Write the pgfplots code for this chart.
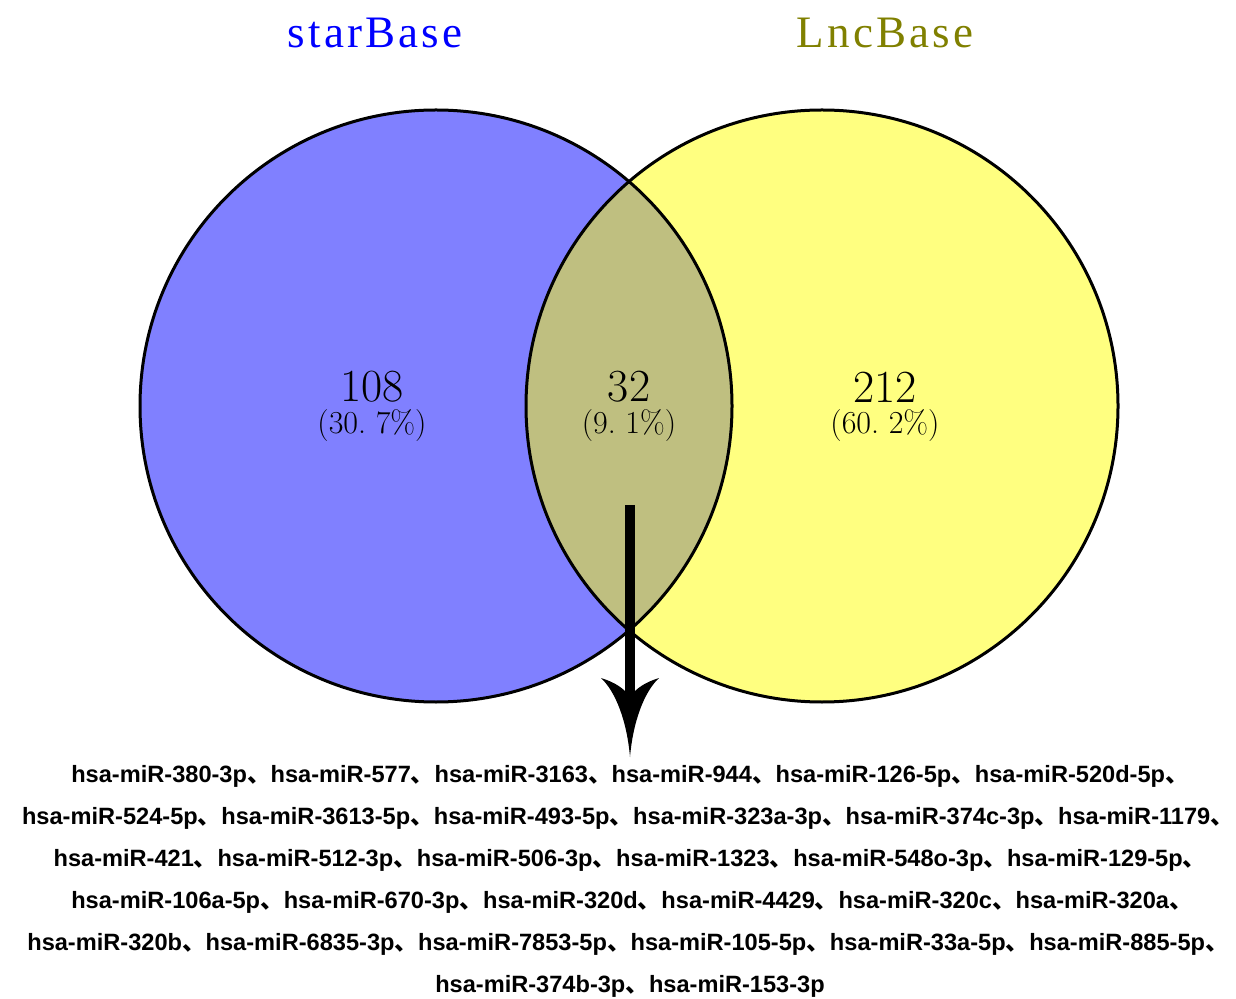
\documentclass[border=0pt]{standalone}
\usepackage{fontspec}
\usepackage{pgfplots}
\pgfplotsset{compat=1.18}
\newfontfamily\titlefont[LetterSpace=7]{Liberation Serif}
\newfontfamily\labfont{Liberation Sans}
\newfontfamily\cjk{Noto Sans CJK SC}
\definecolor{cblue}{RGB}{128,128,255}
\definecolor{cyellow}{RGB}{255,255,128}
\definecolor{cover}{RGB}{191,191,128}
\definecolor{tblue}{RGB}{0,0,255}
\definecolor{tolive}{RGB}{128,128,0}
\newcommand{\dun}{{\cjk 、}}
\begin{document}
\begin{tikzpicture}
\begin{axis}[x=0.5pt, y=0.5pt, xmin=0, xmax=1236, ymin=0, ymax=999, y dir=reverse,
  hide axis, clip=false, scale only axis, anchor=south west, at={(0,0)}]
% circles
\fill[cblue] (axis cs:436,406) circle[radius=148pt];
\fill[cyellow] (axis cs:822,406) circle[radius=148pt];
\begin{scope}
\clip (axis cs:436,406) circle[radius=148pt];
\fill[cover] (axis cs:822,406) circle[radius=148pt];
\end{scope}
\draw[line width=1.5pt] (axis cs:436,406) circle[radius=148pt];
\draw[line width=1.5pt] (axis cs:822,406) circle[radius=148pt];
% arrow
\draw[line width=5pt] (axis cs:630,505) -- (axis cs:630,700);
\fill (axis cs:630,757) .. controls (axis cs:627,722) and (axis cs:616,692) .. (axis cs:601,678)
  .. controls (axis cs:614,682) and (axis cs:624,688) .. (axis cs:630,697)
  .. controls (axis cs:636,688) and (axis cs:646,682) .. (axis cs:659,678)
  .. controls (axis cs:644,692) and (axis cs:633,722) .. (axis cs:630,757) -- cycle;
% titles
\node[text=tblue, font=\titlefont\fontsize{22.5pt}{26pt}\selectfont] at (axis cs:375,33) {starBase};
\node[text=tolive, font=\titlefont\fontsize{22.5pt}{26pt}\selectfont] at (axis cs:885,33) {LncBase};
% counts
\tikzset{cnt/.style={inner sep=0pt, font=\fontsize{23pt}{26pt}\selectfont},
         pct/.style={inner sep=0pt, font=\fontsize{16pt}{18pt}\selectfont}}
\node[cnt] at (axis cs:372,387) {108};
\node[pct] at (axis cs:372,426) {(30.\ 7\%)};
\node[cnt] at (axis cs:629,387) {32};
\node[pct] at (axis cs:629,426) {(9.\ 1\%)};
\node[cnt] at (axis cs:885,387) {212};
\node[pct] at (axis cs:885,426) {(60.\ 2\%)};
% list
\tikzset{lst/.style={inner sep=0pt, font=\labfont\bfseries\fontsize{11.8pt}{14pt}\selectfont}}
\node[lst] at (axis cs:630,776) {hsa-miR-380-3p\dun hsa-miR-577\dun hsa-miR-3163\dun hsa-miR-944\dun hsa-miR-126-5p\dun hsa-miR-520d-5p\dun};
\node[lst] at (axis cs:628,818) {hsa-miR-524-5p\dun hsa-miR-3613-5p\dun hsa-miR-493-5p\dun hsa-miR-323a-3p\dun hsa-miR-374c-3p\dun hsa-miR-1179\dun};
\node[lst] at (axis cs:630,860) {hsa-miR-421\dun hsa-miR-512-3p\dun hsa-miR-506-3p\dun hsa-miR-1323\dun hsa-miR-548o-3p\dun hsa-miR-129-5p\dun};
\node[lst] at (axis cs:632,902) {hsa-miR-106a-5p\dun hsa-miR-670-3p\dun hsa-miR-320d\dun hsa-miR-4429\dun hsa-miR-320c\dun hsa-miR-320a\dun};
\node[lst] at (axis cs:628,944) {hsa-miR-320b\dun hsa-miR-6835-3p\dun hsa-miR-7853-5p\dun hsa-miR-105-5p\dun hsa-miR-33a-5p\dun hsa-miR-885-5p\dun};
\node[lst] at (axis cs:630,986) {hsa-miR-374b-3p\dun hsa-miR-153-3p};
\end{axis}
\pgfresetboundingbox
\useasboundingbox (0,0) rectangle (618pt,499.5pt);
\end{tikzpicture}
\end{document}
